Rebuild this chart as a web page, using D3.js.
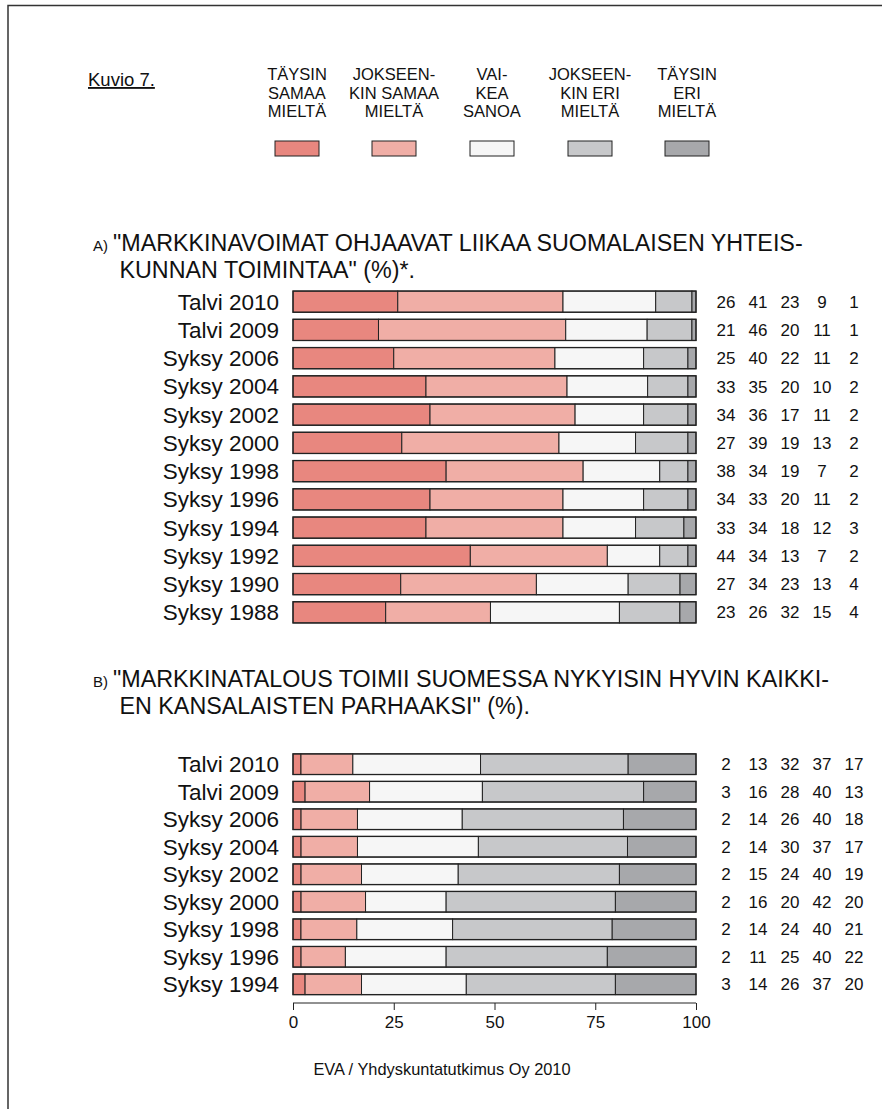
<!DOCTYPE html>
<html>
<head>
<meta charset="utf-8">
<script src="https://cdn.jsdelivr.net/npm/d3@7"></script>
<style>
  body { margin: 0; background: #fff; }
  svg text { font-family: "Liberation Sans", Arial, sans-serif; fill: #111; }
  .narrow { font-family: "Liberation Sans Narrow", "Arial Narrow", "Liberation Sans", sans-serif; }
</style>
</head>
<body>
<svg id="chart" width="882" height="1109"></svg>
<script>
// legend / response categories
var legendLines = [
    ["TÄYSIN", "SAMAA", "MIELTÄ"],
    ["JOKSEEN-", "KIN SAMAA", "MIELTÄ"],
    ["VAI-", "KEA", "SANOA"],
    ["JOKSEEN-", "KIN ERI", "MIELTÄ"],
    ["TÄYSIN", "ERI", "MIELTÄ"]
];
var colors = ["#e8877f", "#f0aea6", "#f6f6f6", "#c7c8ca", "#a7a8ab"];

// A) markkinavoimat
var yearsA = ["Talvi 2010", "Talvi 2009", "Syksy 2006", "Syksy 2004", "Syksy 2002", "Syksy 2000",
    "Syksy 1998", "Syksy 1996", "Syksy 1994", "Syksy 1992", "Syksy 1990", "Syksy 1988"];
var a1 = [26, 21, 25, 33, 34, 27, 38, 34, 33, 44, 27, 23];
var a2 = [41, 46, 40, 35, 36, 39, 34, 33, 34, 34, 34, 26];
var a3 = [23, 20, 22, 20, 17, 19, 19, 20, 18, 13, 23, 32];
var a4 = [9, 11, 11, 10, 11, 13, 7, 11, 12, 7, 13, 15];
var a5 = [1, 1, 2, 2, 2, 2, 2, 2, 3, 2, 4, 4];

// B) markkinatalous
var yearsB = ["Talvi 2010", "Talvi 2009", "Syksy 2006", "Syksy 2004", "Syksy 2002", "Syksy 2000",
    "Syksy 1998", "Syksy 1996", "Syksy 1994"];
var b1 = [2, 3, 2, 2, 2, 2, 2, 2, 3];
var b2 = [13, 16, 14, 14, 15, 16, 14, 11, 14];
var b3 = [32, 28, 26, 30, 24, 20, 24, 25, 26];
var b4 = [37, 40, 40, 37, 40, 42, 40, 40, 37];
var b5 = [17, 13, 18, 17, 19, 20, 21, 22, 20];

var ticks = [0, 25, 50, 75, 100];

var svg = d3.select("#chart");

// page frame (top + left edge)
svg.append("path")
    .attr("d", "M8,1109 V5.5 H882")
    .attr("fill", "none")
    .attr("stroke", "#333")
    .attr("stroke-width", 1.5);

svg.append("text")
    .attr("x", 88).attr("y", 86)
    .attr("font-size", 18.5)
    .attr("text-decoration", "underline")
    .text("Kuvio 7.");

// legend
var legendX = [297, 394, 492, 590, 687];
var legend = svg.selectAll(".leg")
    .data(legendLines)
    .enter().append("g")
    .attr("class", "leg")
    .attr("transform", function (d, i) { return "translate(" + legendX[i] + ",0)"; });
legend.selectAll("text")
    .data(function (d) { return d; })
    .enter().append("text")
    .attr("class", "narrow")
    .attr("text-anchor", "middle")
    .attr("font-size", 16.5)
    .attr("y", function (d, i) { return 80 + i * 18.5; })
    .text(function (d) { return d; });
legend.append("rect")
    .attr("x", -22).attr("y", 141)
    .attr("width", 44).attr("height", 15)
    .attr("fill", function (d, i) { return colors[i]; })
    .attr("stroke", "#222")
    .attr("stroke-width", 1);

var x = d3.scaleLinear().domain([0, 1]).range([293, 696]);
var xAxisScale = d3.scaleLinear().domain([0, 100]).range([293, 696]);
var numX = [726, 758, 790, 822, 854];

function drawTitle(letter, line1, line2, y) {
    svg.append("text")
        .attr("x", 93).attr("y", y)
        .attr("font-size", 15)
        .text(letter);
    svg.append("text")
        .attr("x", 113).attr("y", y)
        .attr("font-size", 23.3)
        .text(line1);
    svg.append("text")
        .attr("x", 113).attr("y", y + 27)
        .attr("font-size", 23.3)
        .attr("xml:space", "preserve")
        .text(line2);
}

function drawPanel(years, series, y0, y1) {
    var rows = years.map(function (yr, i) {
        var r = { year: yr };
        series.forEach(function (s, k) { r["s" + k] = s[i]; });
        return r;
    });
    var keys = series.map(function (s, k) { return "s" + k; });
    var stacked = d3.stack().keys(keys).offset(d3.stackOffsetExpand)(rows);

    var y = d3.scaleBand().domain(years).range([y0, y1]).padding(0.25);

    var g = svg.append("g");
    g.selectAll(".layer")
        .data(stacked)
        .enter().append("g")
        .attr("fill", function (d, i) { return colors[i]; })
        .selectAll("rect")
        .data(function (d) { return d; })
        .enter().append("rect")
        .attr("x", function (d) { return x(d[0]); })
        .attr("width", function (d) { return x(d[1]) - x(d[0]); })
        .attr("y", function (d) { return y(d.data.year); })
        .attr("height", y.bandwidth())
        .attr("stroke", "#222")
        .attr("stroke-width", 1);

    // outline of whole bar
    g.selectAll(".outline")
        .data(years)
        .enter().append("rect")
        .attr("x", x(0)).attr("width", x(1) - x(0))
        .attr("y", function (d) { return y(d); })
        .attr("height", y.bandwidth())
        .attr("fill", "none")
        .attr("stroke", "#222")
        .attr("stroke-width", 1.3);

    // row labels
    g.selectAll(".lab")
        .data(years)
        .enter().append("text")
        .attr("x", 279)
        .attr("y", function (d) { return y(d) + y.bandwidth() / 2; })
        .attr("dy", "0.36em")
        .attr("text-anchor", "end")
        .attr("font-size", 22.5)
        .text(function (d) { return d; });

    // values at right
    series.forEach(function (s, k) {
        g.selectAll(".num" + k)
            .data(s)
            .enter().append("text")
            .attr("x", numX[k])
            .attr("y", function (d, i) { return y(years[i]) + y.bandwidth() / 2; })
            .attr("dy", "0.36em")
            .attr("text-anchor", "middle")
            .attr("font-size", 17)
            .text(function (d) { return d; });
    });
    return y;
}

drawTitle("A)", "\"MARKKINAVOIMAT OHJAAVAT LIIKAA SUOMALAISEN YHTEIS-", " KUNNAN TOIMINTAA\" (%)*.", 251);
drawPanel(yearsA, [a1, a2, a3, a4, a5], 284, 630);

drawTitle("B)", "\"MARKKINATALOUS TOIMII SUOMESSA NYKYISIN HYVIN KAIKKI-", " EN KANSALAISTEN PARHAAKSI\" (%).", 687);
drawPanel(yearsB, [b1, b2, b3, b4, b5], 747, 1001.5);

// x axis under panel B
var axis = svg.append("g")
    .attr("transform", "translate(0,1003)")
    .call(d3.axisBottom(xAxisScale).tickValues(ticks).tickSize(7).tickPadding(6));
axis.select(".domain").attr("stroke", "#222").attr("d", "M293,0H696");
axis.selectAll(".tick line").attr("stroke", "#222");
axis.selectAll(".tick text")
    .attr("font-size", 17)
    .attr("font-family", "Liberation Sans, Arial, sans-serif")
    .attr("fill", "#111");

svg.append("text")
    .attr("x", 442).attr("y", 1075)
    .attr("text-anchor", "middle")
    .attr("font-size", 16.4)
    .text("EVA / Yhdyskuntatutkimus Oy 2010");
</script>
</body>
</html>
